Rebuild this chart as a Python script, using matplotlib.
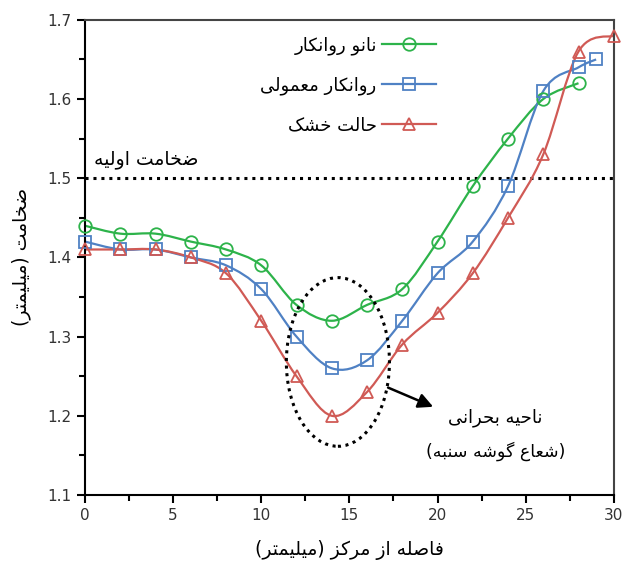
import matplotlib
matplotlib.use("Agg")
import matplotlib.pyplot as plt
from matplotlib.path import Path
from matplotlib.patches import PathPatch, Ellipse
import numpy as np

# Data
x_green = [0, 2, 4, 6, 8, 10, 12, 14, 16, 18, 20, 22, 24, 26, 28]
y_green = [1.44, 1.43, 1.43, 1.42, 1.41, 1.39, 1.34, 1.32, 1.34, 1.36, 1.42, 1.49, 1.55, 1.60, 1.62]
x_blue = [0, 2, 4, 6, 8, 10, 12, 14, 16, 18, 20, 22, 24, 26, 28, 29]
y_blue = [1.42, 1.41, 1.41, 1.40, 1.39, 1.36, 1.30, 1.26, 1.27, 1.32, 1.38, 1.42, 1.49, 1.61, 1.64, 1.65]
x_red = [0, 2, 4, 6, 8, 10, 12, 14, 16, 18, 20, 22, 24, 26, 28, 30]
y_red = [1.41, 1.41, 1.41, 1.40, 1.38, 1.32, 1.25, 1.20, 1.23, 1.29, 1.33, 1.38, 1.45, 1.53, 1.66, 1.68]
initial_thickness = 1.5

labels = ["نانو روانکار", "روانکار معمولی", "حالت خشک"]
colors = ["#2db34a", "#4f81c4", "#d05a55"]
markers = ["o", "s", "^"]

# Persian shaping by hand (matplotlib has no complex text layout)
FORMS = {
    "ا": (0xFE8D, 0xFE8E, None, None), "ب": (0xFE8F, 0xFE90, 0xFE91, 0xFE92),
    "ت": (0xFE95, 0xFE96, 0xFE97, 0xFE98), "ح": (0xFEA1, 0xFEA2, 0xFEA3, 0xFEA4),
    "خ": (0xFEA5, 0xFEA6, 0xFEA7, 0xFEA8), "ر": (0xFEAD, 0xFEAE, None, None),
    "ز": (0xFEAF, 0xFEB0, None, None), "س": (0xFEB1, 0xFEB2, 0xFEB3, 0xFEB4),
    "ش": (0xFEB5, 0xFEB6, 0xFEB7, 0xFEB8), "ص": (0xFEB9, 0xFEBA, 0xFEBB, 0xFEBC),
    "ض": (0xFEBD, 0xFEBE, 0xFEBF, 0xFEC0), "ع": (0xFEC9, 0xFECA, 0xFECB, 0xFECC),
    "ف": (0xFED1, 0xFED2, 0xFED3, 0xFED4), "ل": (0xFEDD, 0xFEDE, 0xFEDF, 0xFEE0),
    "م": (0xFEE1, 0xFEE2, 0xFEE3, 0xFEE4), "ن": (0xFEE5, 0xFEE6, 0xFEE7, 0xFEE8),
    "ه": (0xFEE9, 0xFEEA, 0xFEEB, 0xFEEC), "و": (0xFEED, 0xFEEE, None, None),
    "ی": (0xFBFC, 0xFBFD, 0xFBFE, 0xFBFF), "ک": (0xFB8E, 0xFB8F, 0xFB90, 0xFB91),
    "گ": (0xFB92, 0xFB93, 0xFB94, 0xFB95),
}


def fa(text):
    out = []
    for i, ch in enumerate(text):
        if ch not in FORMS:
            out.append(ch)
            continue
        prev = text[i - 1] if i > 0 else ""
        nxt = text[i + 1] if i + 1 < len(text) else ""
        isol, fin, init, med = FORMS[ch]
        join_prev = prev in FORMS and FORMS[prev][2] is not None
        join_next = nxt in FORMS and init is not None
        if join_prev and join_next:
            code = med
        elif join_prev:
            code = fin
        elif join_next:
            code = init
        else:
            code = isol
        out.append(chr(code))
    vis = "".join(reversed(out))
    return vis.translate(str.maketrans("()", ")("))


def smooth_path(xs, ys):
    # Catmull-Rom style smoothing as cubic Bezier segments
    p = np.column_stack([xs, ys])
    verts = [p[0]]
    codes = [Path.MOVETO]
    n = len(p)
    for i in range(n - 1):
        p0 = p[i - 1] if i > 0 else p[i]
        p1 = p[i]
        p2 = p[i + 1]
        p3 = p[i + 2] if i + 2 < n else p[i + 1]
        c1 = p1 + (p2 - p0) / 6.0
        c2 = p2 - (p3 - p1) / 6.0
        verts += [c1, c2, p2]
        codes += [Path.CURVE4] * 3
    return Path(verts, codes)


plt.rcParams['font.family'] = ['DejaVu Sans']

fig = plt.figure(figsize=(6.25, 5.67), dpi=100)
ax = fig.add_axes([0.136, 0.127, 0.846, 0.838])

series = [(x_green, y_green), (x_blue, y_blue), (x_red, y_red)]
handles = []
for (xs, ys), lab, col, mk in zip(series, labels, colors, markers):
    ax.add_patch(PathPatch(smooth_path(xs, ys), facecolor="none", edgecolor=col, lw=1.6, zorder=2))
    ax.plot(xs, ys, ls="none", marker=mk, ms=9, mfc="none", mec=col, mew=1.3, zorder=3, clip_on=False)
    h, = ax.plot([], [], color=col, lw=1.6, marker=mk, ms=9, mfc="none", mec=col, mew=1.3, label=fa(lab))
    handles.append(h)

ax.axhline(initial_thickness, color="black", ls=(0, (1, 1.6)), lw=2.2, zorder=1)
ax.text(0.5, initial_thickness + 0.012, fa("ضخامت اولیه"), fontsize=13.5, ha="left", va="bottom")

ax.add_patch(Ellipse((14.35, 1.268), 5.85, 0.213, facecolor="none", edgecolor="black",
                     ls=(0, (1, 1.5)), lw=2.2, zorder=4))
ax.annotate("", xy=(19.9, 1.21), xytext=(17.05, 1.237),
            arrowprops=dict(arrowstyle="-|>", color="black", lw=1.8, mutation_scale=22))
ax.text(23.3, 1.197, fa("ناحیه بحرانی"), fontsize=13, ha="center", va="center")
ax.text(23.3, 1.155, fa("(شعاع گوشه سنبه)"), fontsize=12.5, ha="center", va="center")

leg = ax.legend(handles=handles, loc="upper right", bbox_to_anchor=(0.695, 1.0), frameon=False,
                markerfirst=False, fontsize=13, labelspacing=1.2, handlelength=3.0, handletextpad=0.3)

ax.set_xlim(0, 30)
ax.set_ylim(1.1, 1.7)
ax.set_xticks(np.arange(0, 31, 5))
ax.set_xticks(np.arange(0, 31, 2.5), minor=True)
ax.set_yticks(np.arange(1.1, 1.71, 0.1))
ax.set_yticks(np.arange(1.1, 1.71, 0.05), minor=True)
ax.yaxis.set_major_formatter(matplotlib.ticker.FormatStrFormatter("%.1f"))
ax.tick_params(which="both", direction="out", color="black", width=1.5, labelsize=11, labelcolor="#333333")
ax.tick_params(which="major", length=6)
ax.tick_params(which="minor", length=4)
for s in ax.spines.values():
    s.set_linewidth(1.5)
ax.spines["top"].set_color("#444444")
ax.spines["right"].set_color("#444444")

ax.set_xlabel(fa("فاصله از مرکز (میلیمتر)"), fontsize=13.5, labelpad=12)
ax.set_ylabel(fa("ضخامت (میلیمتر)"), fontsize=13.5, labelpad=12)

fig.savefig("out.png", dpi=100)
